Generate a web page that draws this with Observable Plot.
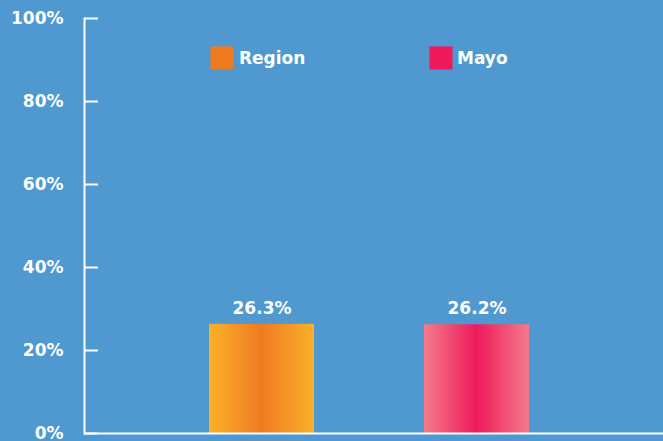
<!DOCTYPE html>
<html><head><meta charset="utf-8">
<script src="https://cdn.jsdelivr.net/npm/d3@7"></script>
<script src="https://cdn.jsdelivr.net/npm/@observablehq/plot@0.6"></script>
<style>
html,body{margin:0;padding:0;background:#4F98D0;overflow:hidden;}
</style></head><body><div id="chart"></div>
<script>
const categories = ["Region", "Mayo"];
const values = [0.263, 0.262];
const valueLabels = ["26.3%", "26.2%"];
const yTicks = [0, 0.2, 0.4, 0.6, 0.8, 1];
const legendLabels = ["Region", "Mayo"];
const solidColors = ["#EE7B22", "#EE1A5B"];
const edgeColors = ["#FBB128", "#F47B8B"];

const data = categories.map((c, i) => ({cat: c, value: values[i], label: valueLabels[i]}));
const gradIds = categories.map((c, i) => `grad${i}`);

const font = "DejaVu Sans";
const legendY = 0.905;

const chart = Plot.plot({
  width: 663,
  height: 441,
  marginLeft: 84,
  marginRight: 0,
  marginTop: 18,
  marginBottom: 8,
  style: {background: "#4F98D0", color: "white", fontFamily: font, fontWeight: "bold", fontSize: "17px", overflow: "visible"},
  x: {domain: categories, paddingInner: 0.5116, paddingOuter: 0.6023, align: 0.483, axis: null},
  y: {domain: [0, 1], axis: null},
  color: {type: "ordinal", domain: categories, range: gradIds.map(id => `url(#${id})`)},
  marks: [
    Plot.barY(data, {x: "cat", y: "value", fill: "cat"}),
    Plot.text(data, {x: "cat", y: "value", text: "label", dy: -16, fill: "white", fontSize: 17, fontWeight: "bold"}),
    Plot.axisY({ticks: yTicks, tickSize: -14, tickFormat: () => "", label: null, stroke: "white", strokeWidth: 2}),
    Plot.axisY({ticks: yTicks, tickSize: 0, tickPadding: 21, tickFormat: d3.format(".0%"), label: null, fill: "white", fontSize: 17, fontWeight: "bold"}),
    Plot.frame({anchor: "left", stroke: "white", strokeWidth: 2}),
    Plot.ruleY([0], {stroke: "white", strokeWidth: 2}),
    ...legendLabels.map((l, i) => Plot.dot([l], {x: () => categories[i], y: () => legendY, symbol: "square", r: 13, fill: solidColors[i], dx: i === 0 ? -40 : -36})),
    ...legendLabels.map((l, i) => Plot.text([l], {x: () => categories[i], y: () => legendY, text: d => d, textAnchor: "start", dx: i === 0 ? -23 : -20, dy: 1, fill: "white", fontSize: 17, fontWeight: "bold"}))
  ]
});

const svg = d3.select(chart);
const defs = svg.insert("defs", ":first-child");
gradIds.forEach((id, i) => {
  const g = defs.append("linearGradient").attr("id", id).attr("x1", "0").attr("x2", "1").attr("y1", "0").attr("y2", "0");
  g.append("stop").attr("offset", "0").attr("stop-color", edgeColors[i]);
  g.append("stop").attr("offset", "0.5").attr("stop-color", solidColors[i]);
  g.append("stop").attr("offset", "1").attr("stop-color", edgeColors[i]);
});
document.getElementById("chart").appendChild(chart);
</script>
</body></html>
